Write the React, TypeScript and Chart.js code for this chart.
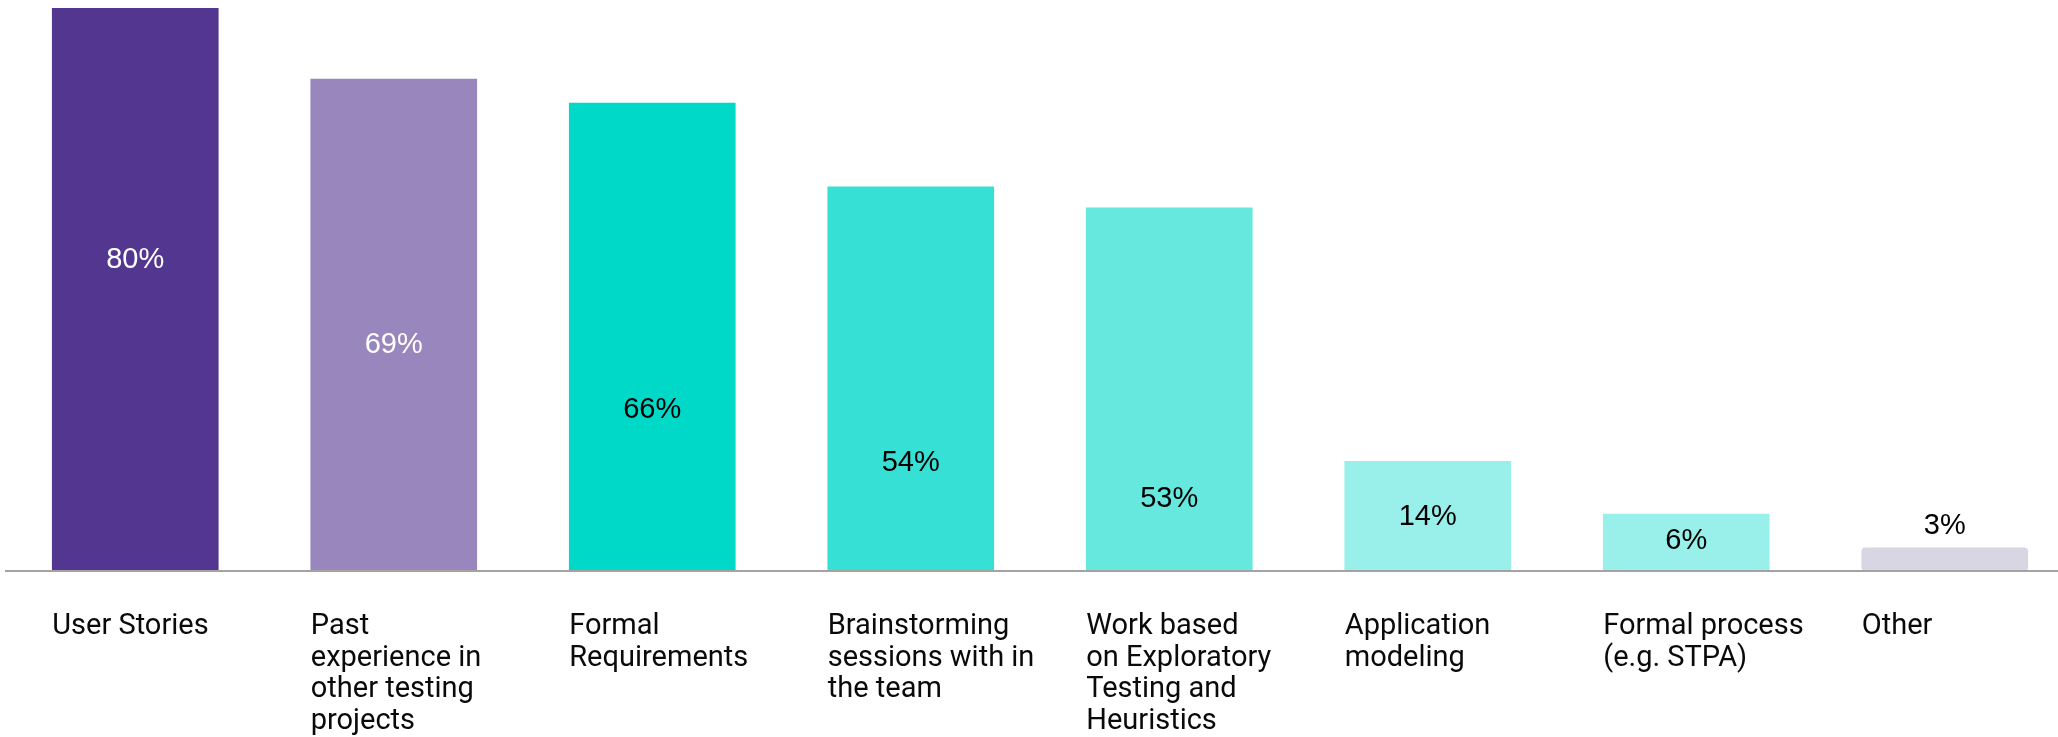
import React, { useEffect, useRef } from "react";
import { Chart, registerables } from "chart.js";

Chart.register(...registerables);

// ---- data ----
const categories: string[][] = [
  ["User Stories"],
  ["Past", "experience in", "other testing", "projects"],
  ["Formal", "Requirements"],
  ["Brainstorming", "sessions with in", "the team"],
  ["Work based", "on Exploratory", "Testing and", "Heuristics"],
  ["Application", "modeling"],
  ["Formal process", "(e.g. STPA)"],
  ["Other"],
];
// bar heights as drawn (percent units)
const barValues: number[] = [80, 69.9, 66.5, 54.6, 51.6, 15.6, 8.1, 3.3];
// printed labels
const valueLabels: string[] = ["80%", "69%", "66%", "54%", "53%", "14%", "6%", "3%"];

// ---- styling ----
const barColors = [
  "#52368F",
  "#9886BC",
  "#00D8C8",
  "#36E0D5",
  "#66E8DF",
  "#99F0EA",
  "#99F0EA",
  "#D8D6E3",
];
const valueLabelColors = ["#FFFFFF", "#FFFFFF", "#000000", "#000000", "#000000", "#000000", "#000000", "#000000"];
// where each printed value sits along the value axis (text baseline)
const valueLabelLevels = [43.05, 30.98, 21.67, 14.25, 9.05, 6.54, 3.08, 5.21];

const labelPlugin = {
  id: "customLabels",
  afterDatasetsDraw(chart: any) {
    const { ctx, chartArea } = chart;
    const meta = chart.getDatasetMeta(0);
    const yScale = chart.scales.y;
    ctx.save();
    meta.data.forEach((bar: any, i: number) => {
      const { x, width } = bar.getProps(["x", "width"], true);
      ctx.font = '29px "Liberation Sans"';
      ctx.textAlign = "center";
      ctx.textBaseline = "alphabetic";
      ctx.fillStyle = valueLabelColors[i];
      ctx.fillText(valueLabels[i], x, yScale.getPixelForValue(valueLabelLevels[i]));

      ctx.font = "29px Roboto";
      ctx.textAlign = "left";
      ctx.fillStyle = "#0a0a0a";
      categories[i].forEach((line, k) => {
        ctx.fillText(line, x - width / 2, chartArea.bottom + 63 + k * 31.5);
      });
    });
    ctx.restore();
  },
};

export default function App() {
  const canvasRef = useRef<HTMLCanvasElement | null>(null);

  useEffect(() => {
    document.body.style.margin = "0";
    document.body.style.overflow = "hidden";
    const canvas = canvasRef.current;
    if (!canvas) return;
    const chart = new Chart(canvas, {
      type: "bar",
      data: {
        labels: categories.map((c) => c.join(" ")),
        datasets: [
          {
            data: barValues,
            backgroundColor: barColors,
            borderWidth: 0,
            barThickness: 166,
            borderSkipped: false,
            borderRadius: (ctx: any) => (ctx.dataIndex === 7 ? 4 : 0),
          },
        ],
      },
      options: {
        animation: false,
        responsive: false,
        maintainAspectRatio: false,
        devicePixelRatio: 1,
        layout: { padding: { left: 6, right: 6, top: 8, bottom: 166 } },
        plugins: {
          legend: { display: false },
          tooltip: { enabled: false },
          title: { display: false },
        },
        scales: {
          x: {
            type: "category",
            display: true,
            grid: { display: false, drawTicks: false },
            ticks: { display: false },
            border: { display: true, color: "#A3A3A3", width: 2, z: 1 },
          },
          y: {
            display: false,
            min: 0,
            max: 80,
          },
        },
      },
      plugins: [labelPlugin],
    } as any);
    return () => chart.destroy();
  }, []);

  return (
    <div style={{ width: 2058, height: 737, overflow: "hidden" }}>
      <canvas ref={canvasRef} width={2080} height={737} style={{ display: "block" }} />
    </div>
  );
}
